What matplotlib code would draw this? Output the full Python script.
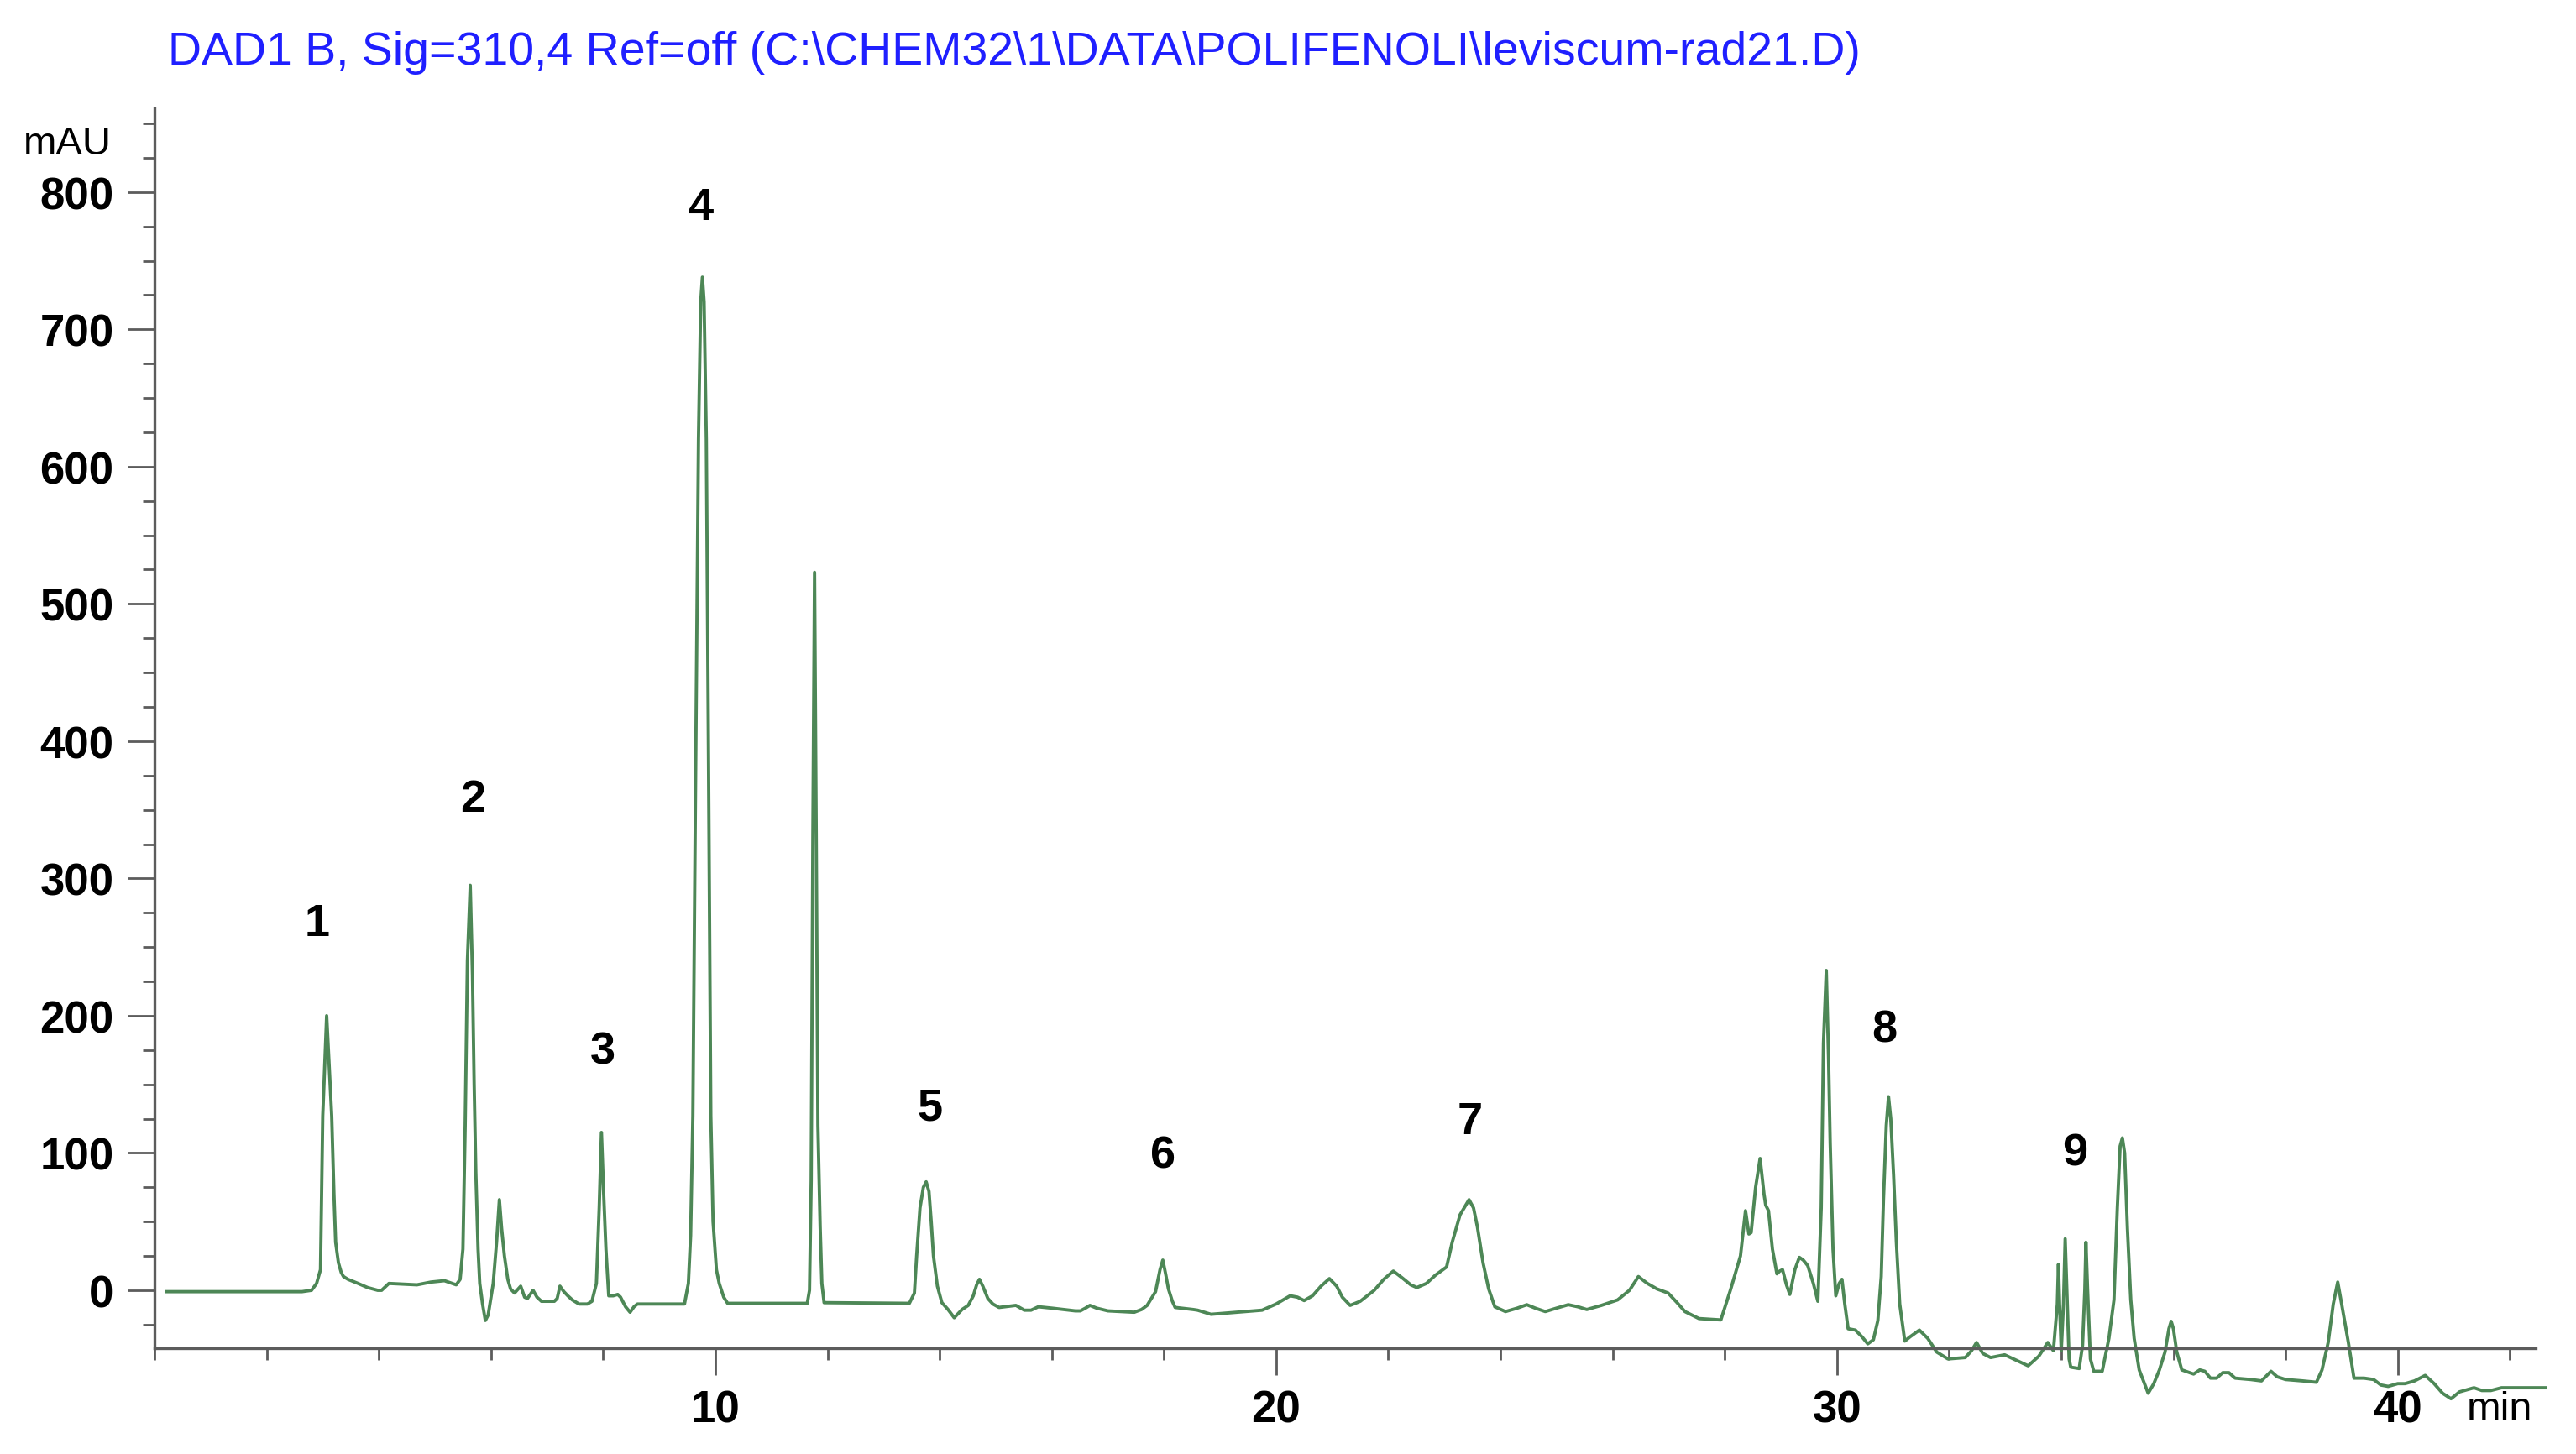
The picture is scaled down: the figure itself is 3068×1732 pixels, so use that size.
import matplotlib
matplotlib.use("Agg")
import matplotlib.pyplot as plt
from matplotlib.ticker import MultipleLocator

plt.rcParams['font.family'] = ['Liberation Sans', 'DejaVu Sans']

# chromatogram trace: retention time (min) and signal (mAU)
t_min = [
    0.21, 2.63, 2.80, 2.89, 2.96, 3.00, 3.07, 3.12, 3.16, 3.20, 3.23, 3.28, 3.33, 3.37, 3.45,
    3.63, 3.80, 3.98, 4.05, 4.18, 4.68, 4.93, 5.17, 5.38, 5.45, 5.50, 5.54, 5.58, 5.63, 5.67,
    5.70, 5.73, 5.77, 5.80, 5.85, 5.90, 5.95, 6.00, 6.04, 6.10, 6.15, 6.19, 6.24, 6.30, 6.35,
    6.42, 6.53, 6.60, 6.65, 6.75, 6.82, 6.90, 7.13, 7.18, 7.23, 7.30, 7.37, 7.45, 7.57, 7.72,
    7.80, 7.88, 7.93, 7.97, 8.01, 8.05, 8.10, 8.18, 8.26, 8.31, 8.40, 8.48, 8.55, 8.61, 9.45,
    9.52, 9.56, 9.60, 9.65, 9.70, 9.74, 9.77, 9.80, 9.84, 9.88, 9.92, 9.96, 10.02, 10.07, 10.15,
    10.22, 11.64, 11.68, 11.71, 11.74, 11.77, 11.80, 11.83, 11.87, 11.90, 11.94, 13.46, 13.55, 13.59, 13.65,
    13.71, 13.76, 13.81, 13.85, 13.89, 13.96, 14.04, 14.15, 14.26, 14.40, 14.51, 14.60, 14.66, 14.71, 14.77,
    14.86, 14.95, 15.06, 15.36, 15.51, 15.63, 15.76, 16.00, 16.42, 16.51, 16.60, 16.68, 16.80, 17.00, 17.47,
    17.60, 17.70, 17.85, 17.93, 17.98, 18.03, 18.08, 18.15, 18.20, 18.52, 18.60, 18.84, 19.30, 19.75, 20.00,
    20.25, 20.38, 20.50, 20.65, 20.80, 20.95, 21.08, 21.18, 21.32, 21.50, 21.75, 21.92, 22.09, 22.25, 22.40,
    22.51, 22.68, 22.84, 23.04, 23.14, 23.28, 23.44, 23.52, 23.59, 23.69, 23.79, 23.90, 24.09, 24.30, 24.47,
    24.62, 24.80, 25.00, 25.21, 25.38, 25.54, 25.80, 26.09, 26.30, 26.46, 26.62, 26.79, 26.99, 27.15, 27.29,
    27.54, 27.93, 28.10, 28.28, 28.37, 28.43, 28.47, 28.55, 28.63, 28.70, 28.73, 28.78, 28.85, 28.93, 28.98,
    29.03, 29.10, 29.16, 29.25, 29.33, 29.40, 29.48, 29.58, 29.66, 29.72, 29.76, 29.81, 29.85, 29.88, 29.93,
    29.98, 30.04, 30.09, 30.14, 30.20, 30.33, 30.45, 30.55, 30.65, 30.73, 30.79, 30.83, 30.88, 30.92, 30.96,
    31.01, 31.06, 31.12, 31.21, 31.30, 31.47, 31.62, 31.78, 31.98, 32.29, 32.40, 32.49, 32.60, 32.74, 32.99,
    33.20, 33.41, 33.60, 33.76, 33.86, 33.93, 33.95, 33.97, 34.00, 34.04, 34.07, 34.10, 34.14, 34.17, 34.32,
    34.38, 34.42, 34.44, 34.47, 34.52, 34.58, 34.73, 34.85, 34.94, 35.00, 35.05, 35.09, 35.13, 35.18, 35.24,
    35.30, 35.39, 35.55, 35.65, 35.75, 35.85, 35.92, 35.96, 36.00, 36.06, 36.15, 36.36, 36.47, 36.56, 36.66,
    36.77, 36.88, 36.99, 37.10, 37.38, 37.57, 37.74, 37.85, 38.00, 38.30, 38.55, 38.65, 38.76, 38.85, 38.93,
    39.00, 39.12, 39.22, 39.40, 39.57, 39.70, 39.83, 40.00, 40.13, 40.30, 40.49, 40.65, 40.80, 40.95, 41.10,
    41.36, 41.50, 41.66, 41.85, 42.08, 42.64,
]
mau = [
    -1, -1, 0, 5, 15, 127, 200, 160, 127, 70, 35, 20, 13, 10, 8,
    5, 2, 0, 0, 5, 4, 6, 7, 4, 8, 30, 120, 240, 295, 230,
    150, 86, 30, 5, -10, -22, -18, -5, 5, 35, 66, 45, 25, 8, 1,
    -2, 3, -5, -6, 0, -5, -8, -8, -6, 3, -1, -4, -7, -10, -10,
    -8, 5, 60, 115, 70, 30, -4, -4, -3, -5, -12, -16, -12, -10, -10,
    5, 40, 127, 380, 620, 720, 738, 720, 620, 380, 127, 50, 15, 5, -5,
    -9.5, -9.5, 0, 80, 330, 523, 330, 120, 46, 5, -9, -9.5, -2, 25, 60,
    75, 79, 72, 50, 25, 3, -9, -14, -20, -14, -11, -4, 4, 8, 3,
    -6, -10, -12.5, -11, -14.5, -14.5, -12, -13, -15, -15, -13, -11, -13, -15, -16,
    -14, -11, -1, 15, 22, 12, 1, -8, -12.5, -14, -14.5, -17.5, -16, -14.5, -10,
    -4, -5, -7.5, -4, 3, 8.5, 3, -5, -11, -8, 0, 8, 14, 9, 4,
    2, 5, 11, 17, 35, 55, 66, 60, 46, 20, 1, -12, -15.5, -13, -10.5,
    -13, -15.5, -13, -10.5, -12, -14, -11, -7, 0, 10, 5, 1, -2, -9, -15.5,
    -20.6, -21.6, 0, 25, 58, 41, 42, 75, 96, 70, 62, 58, 30, 12, 14,
    15, 4, -3, 15, 24, 22, 18, 5, -8, 60, 180, 233, 170, 107, 30,
    -4, 5, 8, -10, -28, -29, -34, -39, -36, -22, 10, 66, 120, 141, 125,
    84, 35, -10, -37, -34, -29, -35, -45, -50, -49, -44, -38, -46, -49, -47,
    -51, -55, -48, -38, -44, -10, 19, -10, -44, -10, 37.5, 0, -50, -56, -57,
    -40, 0, 35, 0, -50, -59, -59, -35, -7, 60, 105, 111, 100, 45, -7,
    -35, -58, -75, -68, -58, -45, -28, -22.6, -28, -45, -58, -61, -58, -59, -64,
    -64, -60, -60, -64, -65, -66, -59, -63, -65, -66, -67, -58, -38, -10, 6,
    -10, -38, -64, -64, -65, -69, -70, -68, -68, -66, -62, -68, -75, -79, -74,
    -71, -73, -73, -71, -71, -71,
]

# peak numbers and where they are written
peak_labels = ["1", "2", "3", "4", "5", "6", "7", "8", "9"]
label_t = [2.90, 5.68, 8.00, 9.73, 13.83, 17.98, 23.46, 30.84, 34.24]
label_mau = [267, 358, 174, 789, 133, 98, 123, 190, 100]

title = r"DAD1 B, Sig=310,4 Ref=off (C:\CHEM32\1\DATA\POLIFENOLI\leviscum-rad21.D)"

fig = plt.figure(figsize=(30.68, 17.33), dpi=100)
ax = fig.add_axes([184 / 3068, 1 - 1607 / 1733, (3020 - 184) / 3068, (1607 - 130) / 1733])

ax.plot(t_min, mau, color="#4d8756", lw=2.8, clip_on=False, solid_joinstyle="round")

for lab, x, y in zip(peak_labels, label_t, label_mau):
    ax.text(x, y, lab, ha="center", va="center", fontsize=39, fontweight="bold", color="black")

ax.set_xlim(0, 42.46)
ax.set_ylim(-42.2, 861)

ax.xaxis.set_major_locator(MultipleLocator(10))
ax.xaxis.set_minor_locator(MultipleLocator(2))
ax.yaxis.set_major_locator(MultipleLocator(100))
ax.yaxis.set_minor_locator(MultipleLocator(25))
ax.set_xticks([10, 20, 30, 40])
ax.set_yticks(range(0, 900, 100))

axis_col = "#5c5c5c"
for side in ["top", "right"]:
    ax.spines[side].set_visible(False)
for side in ["left", "bottom"]:
    ax.spines[side].set_color(axis_col)
    ax.spines[side].set_linewidth(2.4)

ax.tick_params(which="major", length=23, width=2.0, color=axis_col, labelsize=38, pad=12)
ax.tick_params(which="minor", length=10, width=2.0, color=axis_col)
for lbl in ax.get_xticklabels() + ax.get_yticklabels():
    lbl.set_fontweight("bold")

fig.text(200 / 3068, 1 - 63 / 1733, title, color="#1f1fff", fontsize=40, ha="left", va="center")
fig.text(80 / 3068, 1 - 172 / 1733, "mAU", fontsize=34, ha="center", va="center")
fig.text(2977 / 3068, 1 - 1680 / 1733, "min", fontsize=35, ha="center", va="center")

fig.savefig("out.png", dpi=100)
